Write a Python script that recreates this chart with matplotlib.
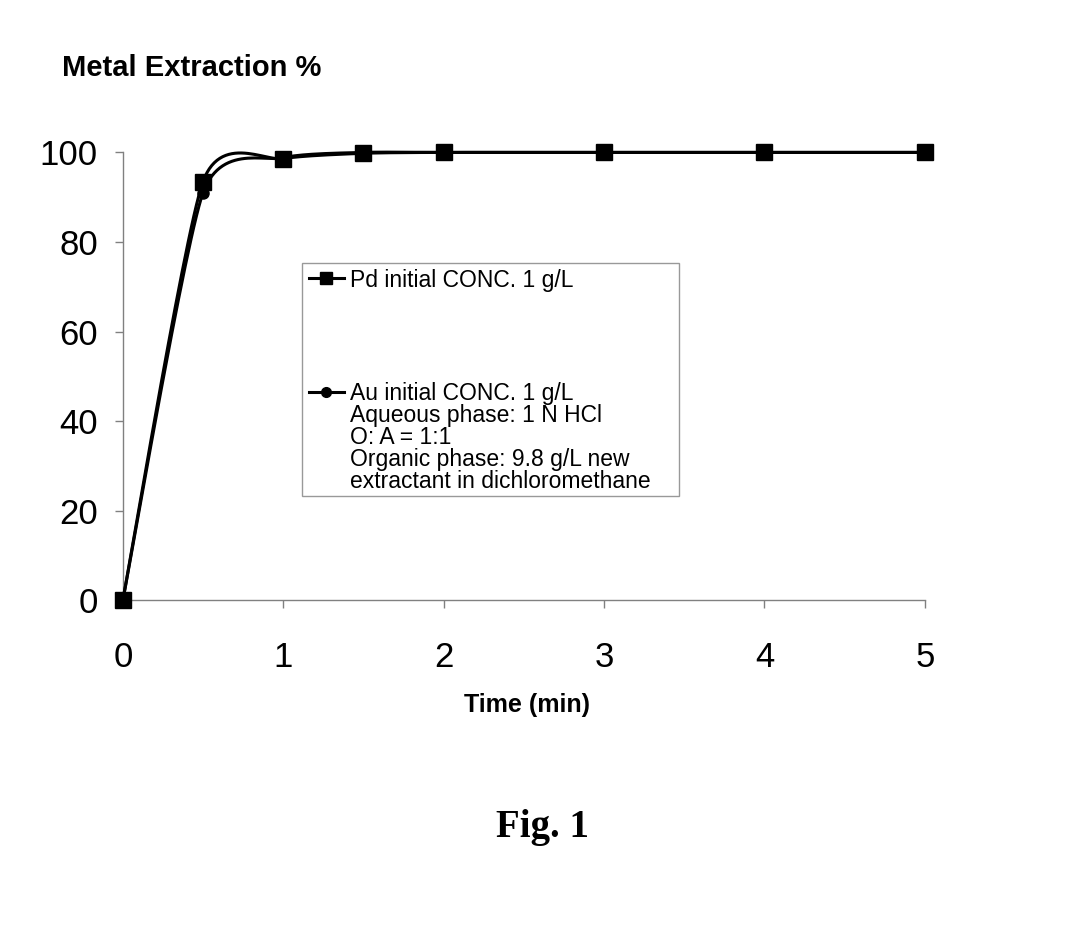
import numpy as np
import matplotlib.pyplot as plt
from matplotlib.patches import Rectangle

plt.rcParams['font.family'] = ['Liberation Sans', 'DejaVu Sans']

# data
time_min = [0, 0.5, 1, 1.5, 2, 3, 4, 5]
pd_extr = [0, 93.5, 98.6, 99.8, 100, 100, 100, 100]
au_extr = [0, 91.0, 98.8, 100, 100, 100, 100, 100]
y_ticks = [0, 20, 40, 60, 80, 100]
x_ticks = [0, 1, 2, 3, 4, 5]

pd_label = 'Pd initial CONC. 1 g/L'
au_label = 'Au initial CONC. 1 g/L'
note_lines = ['Aqueous phase: 1 N HCl', 'O: A = 1:1',
              'Organic phase: 9.8 g/L new', 'extractant in dichloromethane']


def smooth(x, y, k=1/6., n=30):
    # Excel-like smoothed line (bezier through the points)
    x = np.asarray(x, float)
    y = np.asarray(y, float)
    xs, ys = [x[0]], [y[0]]
    for i in range(len(x) - 1):
        p0 = np.array([x[i], y[i]])
        p3 = np.array([x[i + 1], y[i + 1]])
        pm = np.array([x[max(i - 1, 0)], y[max(i - 1, 0)]])
        pp = np.array([x[min(i + 2, len(x) - 1)], y[min(i + 2, len(x) - 1)]])
        p1 = p0 + (p3 - pm) * k
        p2 = p3 - (pp - p0) * k
        t = np.linspace(0, 1, n)[1:, None]
        b = (1 - t) ** 3 * p0 + 3 * (1 - t) ** 2 * t * p1 + 3 * (1 - t) * t ** 2 * p2 + t ** 3 * p3
        xs.extend(b[:, 0])
        ys.extend(b[:, 1])
    return xs, ys


fig = plt.figure(figsize=(10.68, 9.35), dpi=100)
ax = fig.add_axes([0.115, 0.358, 0.751, 0.479])

for xv, yv, mk, ms in [(time_min, au_extr, 'o', 8), (time_min, pd_extr, 's', 11)]:
    sx, sy = smooth(xv, yv, k=0.11)
    ax.plot(sx, sy, color='black', lw=2.2, clip_on=False, zorder=3)
    ax.plot(xv, yv, ls='none', marker=mk, ms=ms, color='black', clip_on=False, zorder=4)

ax.set_xlim(0, 5)
ax.set_ylim(0, 100)
ax.set_xticks(x_ticks)
ax.set_yticks(y_ticks)
for s in ['top', 'right']:
    ax.spines[s].set_visible(False)
for s in ['left', 'bottom']:
    ax.spines[s].set_color('#808080')
    ax.spines[s].set_linewidth(1)
ax.tick_params(axis='both', colors='#808080', labelcolor='black', labelsize=25,
               length=6, width=1)
ax.tick_params(axis='y', pad=12)
ax.tick_params(axis='x', pad=23)

# legend box
ax.add_patch(Rectangle((0.224, 0.232), 0.469, 0.522, transform=ax.transAxes,
                       fill=False, ec='#999999', lw=1, zorder=2))
h1, = ax.plot([], [], color='black', lw=2.2, marker='s', ms=9)
h2, = ax.plot([], [], color='black', lw=2.2, marker='o', ms=7)
ax.legend([h1, h2], [pd_label, au_label], loc='upper left',
          bbox_to_anchor=(0.226, 0.751), frameon=False, fontsize=16.5,
          handlelength=1.55, handletextpad=0.25, labelspacing=3.93,
          borderaxespad=0, borderpad=0.2)
ax.text(0.283, 0.439, '\n'.join(note_lines), transform=ax.transAxes,
        fontsize=16.5, va='top', ha='left', linespacing=0.96)

fig.text(62 / 1068, 1 - 68 / 935, 'Metal Extraction %', fontsize=21, fontweight='bold',
         ha='left', va='center')
fig.text(527 / 1068, 1 - 705 / 935, 'Time (min)', fontsize=18, fontweight='bold',
         ha='center', va='center')
fig.text(543 / 1068, 1 - 828 / 935, 'Fig. 1', fontsize=28, fontweight='bold',
         family='Liberation Serif', ha='center', va='center')

fig.savefig('out.png', dpi=100)
